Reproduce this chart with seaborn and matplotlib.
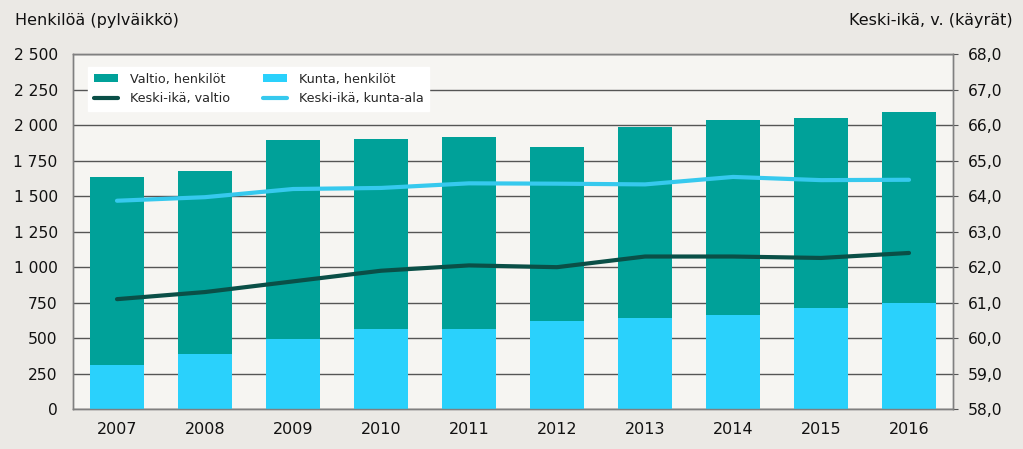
import numpy as np
import pandas as pd
import matplotlib
matplotlib.use("Agg")
import matplotlib.pyplot as plt
import seaborn as sns
from matplotlib.ticker import FuncFormatter, FixedLocator
from matplotlib.patches import Patch
from matplotlib.lines import Line2D

years = ["2007", "2008", "2009", "2010", "2011", "2012", "2013", "2014", "2015", "2016"]
kunta_henkilot = [314, 392, 497, 568, 565, 624, 641, 662, 713, 749]
valtio_henkilot = [1324, 1286, 1397, 1333, 1348, 1223, 1347, 1375, 1336, 1340]
ika_valtio = [61.1, 61.3, 61.6, 61.9, 62.05, 62.0, 62.3, 62.3, 62.26, 62.4]
ika_kunta = [63.87, 63.97, 64.2, 64.23, 64.36, 64.35, 64.33, 64.54, 64.45, 64.46]

sns.set_style("white")
plt.rcParams['font.family'] = ['DejaVu Sans']

C_VALTIO = "#00A199"
C_KUNTA = "#2AD1FC"
C_LV = "#0A4F47"
C_LK = "#36C9EE"
GRID = "#555555"

df = pd.DataFrame({
    "year": years,
    "kunta": kunta_henkilot,
    "valtio": valtio_henkilot,
})
df["total"] = df["kunta"] + df["valtio"]

fig = plt.figure(figsize=(10.23, 4.49), dpi=100, facecolor="#EBE9E5")
ax = fig.add_axes([73/1023, (449-409.3)/449, (953-73)/1023, (409.3-54)/449])
ax.set_facecolor("#F6F5F2")

sns.barplot(data=df, x="year", y="total", color=C_VALTIO, width=0.62,
            saturation=1, ax=ax, zorder=3, linewidth=0, edgecolor="none")
sns.barplot(data=df, x="year", y="kunta", color=C_KUNTA, width=0.62,
            saturation=1, ax=ax, zorder=3, linewidth=0, edgecolor="none")

ax.set_ylim(0, 2500)
ax.set_xlim(-0.5, len(years) - 0.5)
ax.yaxis.set_major_locator(FixedLocator(np.arange(0, 2501, 250)))
ax.yaxis.set_major_formatter(FuncFormatter(lambda v, p: f"{int(v):,}".replace(",", " ")))
ax.grid(axis="y", color=GRID, linewidth=1.0, zorder=0)
ax.set_axisbelow(True)
ax.set_xlabel("")
ax.set_ylabel("")
ax.tick_params(axis="y", length=0, labelsize=11.2, pad=11, colors="#111111")
ax.tick_params(axis="x", length=0, labelsize=11.5, pad=9, colors="#111111")
for s in ax.spines.values():
    s.set_color("#808080")
    s.set_linewidth(1.0)

ax2 = ax.twinx()
x = np.arange(len(years))
sns.lineplot(x=x, y=ika_valtio, color=C_LV, linewidth=3, ax=ax2)
sns.lineplot(x=x, y=ika_kunta, color=C_LK, linewidth=3, ax=ax2)
ax2.set_ylim(58, 68)
ax2.yaxis.set_major_locator(FixedLocator(np.arange(58, 68.1, 1)))
ax2.yaxis.set_major_formatter(FuncFormatter(lambda v, p: f"{v:.1f}".replace(".", ",")))
ax2.tick_params(axis="y", length=3.5, color=GRID, labelsize=11.2, pad=7, labelcolor="#111111")
for s in ax2.spines.values():
    s.set_color("#808080")
    s.set_linewidth(1.0)

handles = [
    Patch(facecolor=C_VALTIO, edgecolor="none"),
    Line2D([0], [0], color=C_LV, linewidth=3),
    Patch(facecolor=C_KUNTA, edgecolor="none"),
    Line2D([0], [0], color=C_LK, linewidth=3),
]
labels = ["Valtio, henkilöt", "Keski-ikä, valtio", "Kunta, henkilöt", "Keski-ikä, kunta-ala"]
leg = ax2.legend(handles, labels, ncol=2, loc="upper left",
                 bbox_to_anchor=(15/880, 1 - 13/355.3), frameon=True, fancybox=False,
                 framealpha=1, edgecolor="white", facecolor="white",
                 fontsize=9.2, handlelength=1.9, handleheight=0.6, handletextpad=0.9,
                 columnspacing=2.6, labelspacing=0.5, borderpad=0.45, borderaxespad=0)
leg.set_zorder(10)

fig.text(15/1023, 1 - 21/449, "Henkilöä (pylväikkö)", fontsize=11.5, va="center", ha="left", color="#111111")
fig.text(1013/1023, 1 - 21/449, "Keski-ikä, v. (käyrät)", fontsize=11.5, va="center", ha="right", color="#111111")

fig.savefig("out.png", dpi=100, facecolor=fig.get_facecolor())
